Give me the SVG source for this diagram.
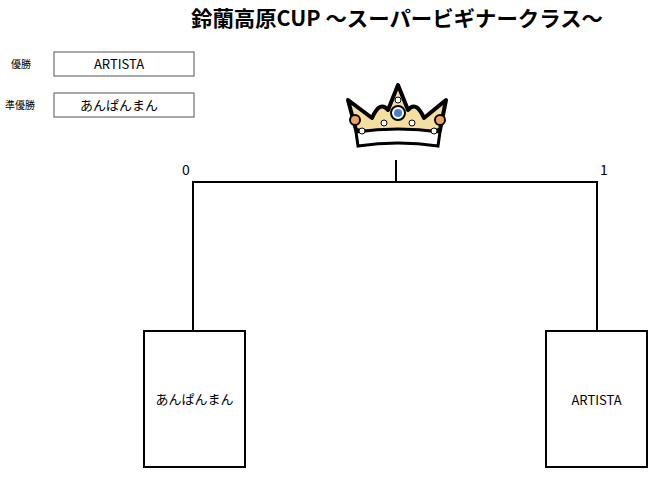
<svg xmlns="http://www.w3.org/2000/svg" width="650" height="482" viewBox="0 0 650 482">
<style>
text{font-family:"Noto Sans CJK JP","Liberation Sans",sans-serif;fill:#000}
.box{fill:#fff;stroke:#000;stroke-width:2}
.sbox{fill:#fff;stroke:#555;stroke-width:1}
.ln{stroke:#000;stroke-width:2;fill:none}
.t{font-size:13px;text-anchor:middle}
.s{font-size:10px;text-anchor:end}
</style>
<rect width="650" height="482" fill="#fff"/>
<text x="397" y="26" font-size="21" font-weight="bold" text-anchor="middle" textLength="412" lengthAdjust="spacingAndGlyphs">鈴蘭高原CUP ～スーパービギナークラス～</text>
<g id="winner"><text class="s" x="31" y="68">優勝</text><rect class="sbox" x="54" y="52" width="140" height="24"/><text class="t" x="119" y="69">ARTISTA</text></g>
<g id="runnerup"><text class="s" x="35" y="109">準優勝</text><rect class="sbox" x="54" y="93" width="140" height="24"/><text class="t" x="119" y="110">あんぱんまん</text></g>
<g id="crown">
<path d="M348 100 L372 118 Q380 100 388 110 L398 85 L408 110 Q416 100 424 118 L446 100 L440 130 Q398 138 356 130 Z" fill="#f5dfa0" stroke="#000" stroke-width="4" stroke-linejoin="round"/>
<path d="M356 132 Q398 126 440 132 L438 146 Q398 140 358 146 Z" fill="#fff" stroke="#000" stroke-width="3"/>
<circle cx="398" cy="113" r="7" fill="#fff" stroke="#000" stroke-width="2"/><circle cx="398" cy="113" r="4" fill="#4a7fd0"/>
<circle cx="355" cy="120" r="5" fill="#f0a060" stroke="#000" stroke-width="2"/><circle cx="440" cy="120" r="5" fill="#f0a060" stroke="#000" stroke-width="2"/>
<circle cx="398" cy="100" r="3" fill="#fff" stroke="#000"/><circle cx="384" cy="123" r="3" fill="#fff" stroke="#000"/><circle cx="412" cy="123" r="3" fill="#fff" stroke="#000"/><circle cx="362" cy="131" r="3" fill="#fff" stroke="#000"/><circle cx="434" cy="131" r="3" fill="#fff" stroke="#000"/>
</g>
<g id="connectors">
<path class="ln" d="M193 331 V182 H597 V331 M396 160 V182"/>
</g>
<text x="186" y="175" font-size="14" text-anchor="middle">0</text>
<text x="604" y="175" font-size="14" text-anchor="middle">1</text>
<g id="team-left"><rect class="box" x="144" y="331" width="101" height="136"/><text class="t" x="194.5" y="404" font-size="12">あんぱんまん</text></g>
<g id="team-right"><rect class="box" x="546" y="331" width="101" height="136"/><text class="t" x="596.5" y="405" font-size="12">ARTISTA</text></g>
</svg>
